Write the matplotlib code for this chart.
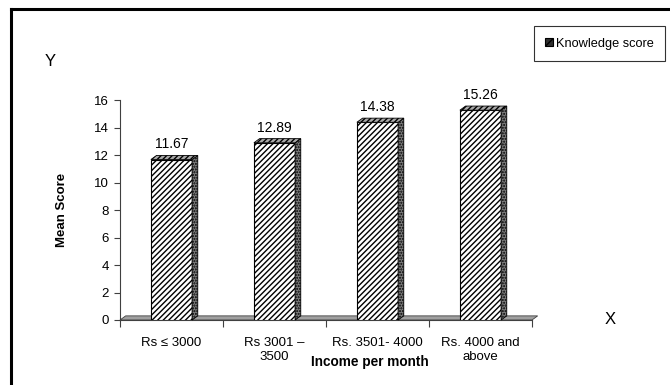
import matplotlib.pyplot as plt
from matplotlib.patches import Polygon, Rectangle
from matplotlib.lines import Line2D
import numpy as np

plt.rcParams['font.family'] = ['Liberation Sans', 'DejaVu Sans']
plt.rcParams['hatch.linewidth'] = 1.0

categories = ["Rs \u2264 3000", "Rs 3001 \u2013\n3500", "Rs. 3501- 4000", "Rs. 4000 and\nabove"]
scores = [11.67, 12.89, 14.38, 15.26]
value_labels = ["11.67", "12.89", "14.38", "15.26"]
series_name = "Knowledge score"

W, H = 670, 385
fig = plt.figure(figsize=(W / 100, H / 100), dpi=100)

# outer frame (top and left edges only)
fig.add_artist(Line2D([11 / W, 11 / W], [0, 1 - 9 / H], color="black", lw=2.2))
fig.add_artist(Line2D([11 / W, 1], [1 - 9 / H, 1 - 9 / H], color="black", lw=2.2))

ax = fig.add_axes([120 / W, 65 / H, 412 / W, 220 / H])
ax.set_xlim(-0.5, 3.5)
ax.set_ylim(0, 16)

x = np.arange(len(categories))
bw = 0.4
dx, dy = 0.055, 0.3  # depth offset for the 3D look

# floor
floor = Polygon([(-0.5, 0), (3.5, 0), (3.5 + dx, dy), (-0.5 + dx, dy)],
                closed=True, facecolor="#a0a0a0", edgecolor="#404040", lw=0.6,
                clip_on=False, zorder=1)
ax.add_patch(floor)

bars = ax.bar(x, scores, width=bw, color="white", edgecolor="black",
              hatch="//////", lw=0.8, zorder=3)

for xi, v, lab in zip(x, scores, value_labels):
    l, r = xi - bw / 2, xi + bw / 2
    side = Polygon([(r, 0), (r + dx, dy), (r + dx, v + dy), (r, v)], closed=True,
                   facecolor="#7c7c7c", edgecolor="black", lw=0.6, hatch="......",
                   clip_on=False, zorder=3)
    top = Polygon([(l, v), (l + dx, v + dy), (r + dx, v + dy), (r, v)], closed=True,
                  facecolor="#a8a8a8", edgecolor="black", lw=0.6, hatch="//////",
                  clip_on=False, zorder=3)
    ax.add_patch(side)
    ax.add_patch(top)
    ax.text(xi, v + 0.6, lab, ha="center", va="bottom", fontsize=10)

for s in ["top", "right", "bottom"]:
    ax.spines[s].set_visible(False)
ax.spines["left"].set_color("#404040")
ax.spines["left"].set_linewidth(0.8)
ax.plot([-0.5, 3.5], [0, 0], color="#404040", lw=0.8, clip_on=False, zorder=2)

ax.set_yticks(np.arange(0, 17, 2))
ax.tick_params(axis="y", direction="out", length=4, width=0.8, color="#404040",
               labelsize=9.5, pad=4)
ax.set_xticks(x)
ax.set_xticklabels(categories, fontsize=9.5, linespacing=1.3)
ax.tick_params(axis="x", length=0, pad=12)
ax.set_xticks(np.arange(-0.5, 4.0, 1.0), minor=True)
ax.tick_params(axis="x", which="minor", direction="out", length=5, width=0.8,
               color="#404040")

ax.set_ylabel("Mean Score", fontsize=9.5, fontweight="bold", labelpad=19)
fig.text(370 / W, 1 - 362 / H, "Income per month", ha="center", va="center",
         fontsize=9.8, fontweight="bold")
fig.text(50 / W, 1 - 62 / H, "Y", ha="center", va="center", fontsize=12)
fig.text(610 / W, 1 - 320 / H, "X", ha="center", va="center", fontsize=12)

handle = Rectangle((0, 0), 1, 1, facecolor="#303030", edgecolor="black",
                   hatch="////", lw=0.8)
leg = fig.legend([handle], [series_name], loc="upper right",
                 bbox_to_anchor=(665 / W, 1 - 26 / H), fontsize=9.2,
                 frameon=True, fancybox=False, handlelength=0.6,
                 handleheight=0.6, handletextpad=0.2, borderpad=0.9,
                 borderaxespad=0)
leg.get_frame().set_edgecolor("black")
leg.get_frame().set_linewidth(0.8)

fig.savefig("out.png", dpi=100)
